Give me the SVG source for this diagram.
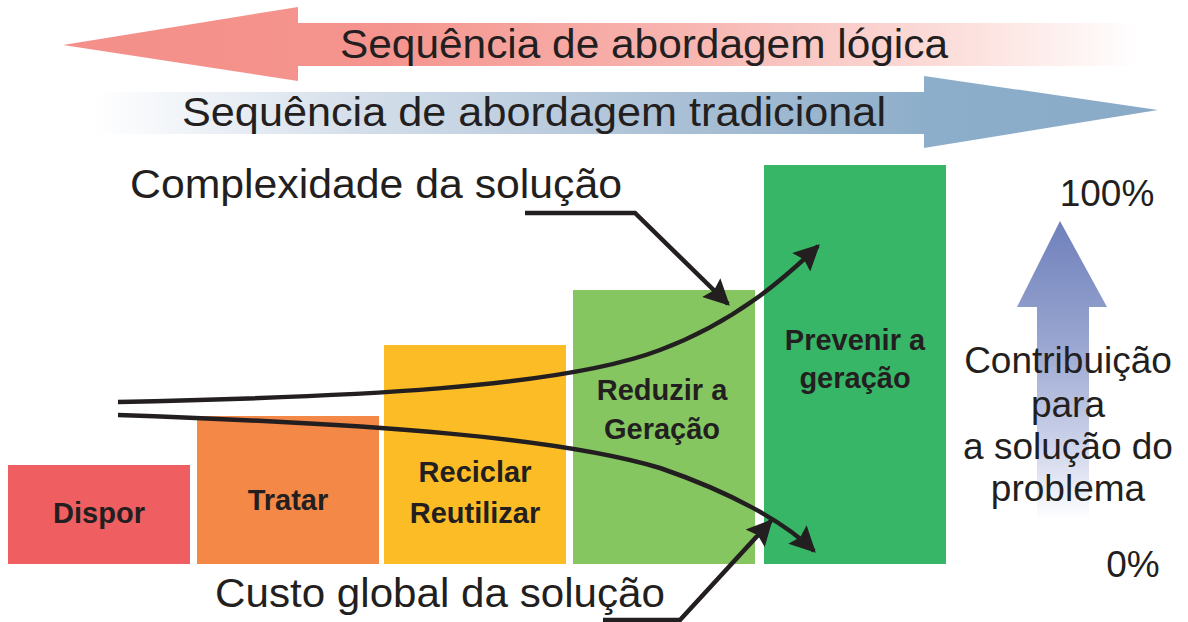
<svg xmlns="http://www.w3.org/2000/svg" width="1188" height="622" viewBox="0 0 1188 622">
<defs>
<linearGradient id="gRed" gradientUnits="userSpaceOnUse" x1="62" y1="0" x2="1140" y2="0">
<stop offset="0" stop-color="#f48f89"/>
<stop offset="0.3" stop-color="#f5948e"/>
<stop offset="0.6" stop-color="#f8b8b3"/>
<stop offset="0.85" stop-color="#fce2df"/>
<stop offset="1" stop-color="#ffffff"/>
</linearGradient>
<linearGradient id="gBlue" gradientUnits="userSpaceOnUse" x1="95" y1="0" x2="1162" y2="0">
<stop offset="0" stop-color="#ffffff"/>
<stop offset="0.25" stop-color="#d4deea"/>
<stop offset="0.55" stop-color="#a9bfd5"/>
<stop offset="0.78" stop-color="#8daeca"/>
<stop offset="1" stop-color="#8aabc8"/>
</linearGradient>
<linearGradient id="gUp" gradientUnits="userSpaceOnUse" x1="0" y1="221" x2="0" y2="520">
<stop offset="0" stop-color="#6f80bb"/>
<stop offset="0.4" stop-color="#98a5d0"/>
<stop offset="0.75" stop-color="#cdd3ea"/>
<stop offset="1" stop-color="#ffffff"/>
</linearGradient>
<marker id="ah" viewBox="0 0 10 10" markerWidth="30" markerHeight="26" markerUnits="userSpaceOnUse" refX="9" refY="5" orient="auto">
<path d="M0,0 L10,5 L0,10 L1.5,5 z" fill="#231f20"/>
</marker>
<style>
.big{font-family:"Liberation Sans",Arial,sans-serif;fill:#231f20;}
.lbl{font-family:"Liberation Sans",Arial,sans-serif;font-weight:bold;font-size:29px;fill:#231f20;text-anchor:middle;}
.side{font-family:"Liberation Sans",Arial,sans-serif;font-size:37px;fill:#231f20;text-anchor:middle;}
.conn{fill:none;stroke:#231f20;stroke-width:4.5;}
</style>
</defs>
<rect width="1188" height="622" fill="#ffffff"/>

<g id="arrow-logica">
<polygon points="63,45 298,7 298,23 1140,23 1140,66 298,66 298,81" fill="url(#gRed)"/>
<text class="big" x="340" y="58" font-size="41" textLength="608" lengthAdjust="spacingAndGlyphs">Sequência de abordagem lógica</text>
</g>

<g id="arrow-tradicional">
<polygon points="95,92 924,92 924,76 1158,110 924,148 924,134 95,134" fill="url(#gBlue)"/>
<text class="big" x="182" y="126" font-size="41" textLength="704" lengthAdjust="spacingAndGlyphs">Sequência de abordagem tradicional</text>
</g>

<g id="box-dispor">
<rect x="8" y="465" width="182" height="99" fill="#ef5f61"/>
<text class="lbl" x="99" y="523">Dispor</text>
</g>
<g id="box-tratar">
<rect x="197" y="416" width="182" height="148" fill="#f48846"/>
<text class="lbl" x="288" y="510">Tratar</text>
</g>
<g id="box-reciclar">
<rect x="384" y="345" width="182" height="219" fill="#fcbc26"/>
<text class="lbl" x="475" y="482">Reciclar</text>
<text class="lbl" x="475" y="523">Reutilizar</text>
</g>
<g id="box-reduzir">
<rect x="573" y="290" width="182" height="274" fill="#85c661"/>
<text class="lbl" x="662" y="400">Reduzir a</text>
<text class="lbl" x="662" y="439">Geração</text>
</g>
<g id="box-prevenir">
<rect x="764" y="165" width="182" height="399" fill="#38b667"/>
<text class="lbl" x="855" y="350">Prevenir a</text>
<text class="lbl" x="855" y="388">geração</text>
</g>

<g id="label-complexidade">
<text class="big" x="130" y="198" font-size="40" textLength="492" lengthAdjust="spacingAndGlyphs">Complexidade da solução</text>
</g>
<g id="label-custo">
<text class="big" x="215" y="607" font-size="40" textLength="450" lengthAdjust="spacingAndGlyphs">Custo global da solução</text>
</g>

<g id="contribuicao">
<polygon points="1060,221 1107,307 1089,307 1089,520 1037,520 1037,307 1017,307" fill="url(#gUp)"/>
<text class="side" x="1107" y="206" font-size="42">100%</text>
<text class="side" x="1068" y="373">Contribuição</text>
<text class="side" x="1068" y="417">para</text>
<text class="side" x="1068" y="459">a solução do</text>
<text class="side" x="1068" y="501">problema</text>
<text class="side" x="1133" y="577" font-size="42">0%</text>
</g>

<g id="connectors">
<path class="conn" d="M118,402 C350,397 560,388 660,350 C735,322 785,278 818,246" marker-end="url(#ah)"/>
<path class="conn" d="M118,415 C380,424 560,438 660,468 C730,492 785,522 814,551" marker-end="url(#ah)"/>
<path class="conn" d="M525,213 L635,213 L728,304" marker-end="url(#ah)"/>
<path class="conn" d="M603,620 L680,620 L771,521" marker-end="url(#ah)"/>
</g>
</svg>
